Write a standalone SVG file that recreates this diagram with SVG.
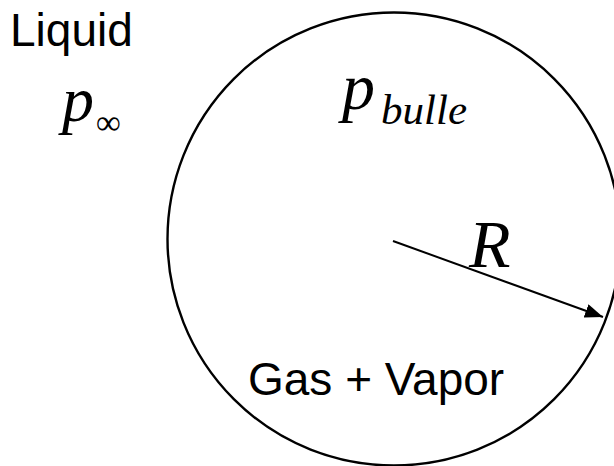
<svg xmlns="http://www.w3.org/2000/svg" width="614" height="466" viewBox="0 0 614 466">
<style>
.stroke{stroke:#000;fill:none}
</style>
<defs>
<marker id="ah" viewBox="0 0 18 14" refX="18" refY="7" markerWidth="18" markerHeight="14" markerUnits="userSpaceOnUse" orient="auto">
<path d="M0,0 L18,7 L0,14 Z" fill="#000"/>
</marker>
</defs>
<rect width="614" height="466" fill="#fff"/>
<g id="bubble">
<circle class="stroke" cx="394" cy="239" r="226.5" stroke-width="2.4"/>
</g>
<g id="liquid-label">
<text x="10" y="46" font-size="46" font-family="Liberation Sans" fill="#000">Liquid</text>
</g>
<g id="p-inf">
<text x="62" y="121" font-size="64" font-family="Liberation Serif" font-style="italic" fill="#000">p</text>
<text x="96" y="134" font-size="35" font-family="Liberation Serif" fill="#000">∞</text>
</g>
<g id="p-bulle">
<text x="342" y="109" font-size="66" font-family="Liberation Serif" font-style="italic" fill="#000">p</text>
<text x="381" y="124" font-size="43" font-family="Liberation Serif" font-style="italic" fill="#000">bulle</text>
</g>
<g id="gas-label">
<text x="248" y="395" font-size="46" font-family="Liberation Sans" fill="#000">Gas + Vapor</text>
</g>
<g id="connectors">
<line class="stroke" x1="393" y1="241" x2="603" y2="317" stroke-width="2" marker-end="url(#ah)"/>
</g>
<g id="r-label">
<text x="469" y="267" font-size="68" font-family="Liberation Serif" font-style="italic" fill="#000">R</text>
</g>
</svg>
